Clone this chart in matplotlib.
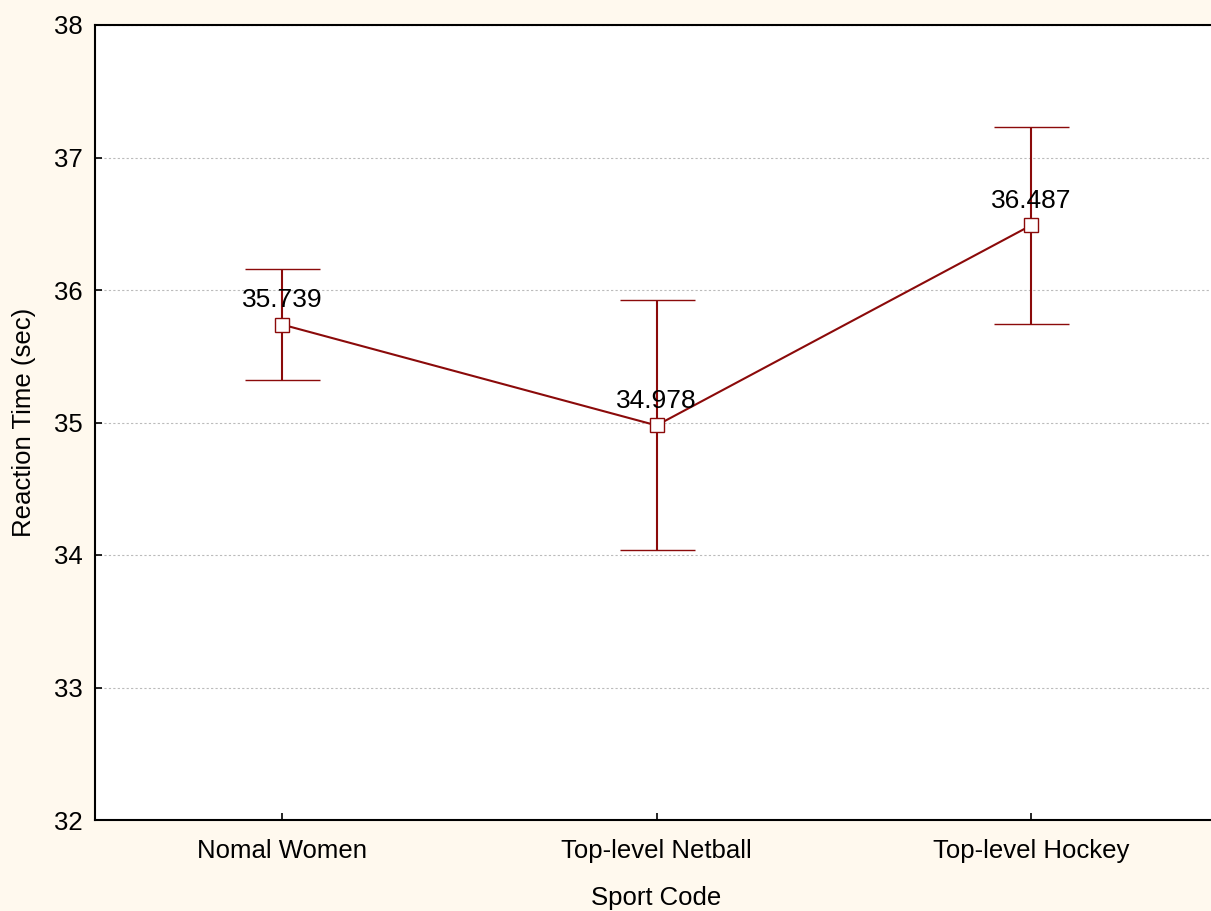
import matplotlib.pyplot as plt

# data
categories = ["Nomal Women", "Top-level Netball", "Top-level Hockey"]
means = [35.739, 34.978, 36.487]
upper = [36.158, 35.925, 37.232]
lower = [35.321, 34.036, 35.740]
y_ticks = [32, 33, 34, 35, 36, 37, 38]

plt.rcParams["font.family"] = ["Liberation Sans", "DejaVu Sans"]

dark_red = "#8B0A0A"
bg = "#FFF9EE"

fig = plt.figure(figsize=(12.11, 9.11), dpi=100, facecolor=bg)
ax = fig.add_axes([95 / 1211, 91 / 911, 1123 / 1211, 795 / 911])
ax.set_facecolor("white")

x = list(range(len(categories)))
err_lo = [m - l for m, l in zip(means, lower)]
err_hi = [u - m for m, u in zip(means, upper)]

ax.errorbar(x, means, yerr=[err_lo, err_hi], color=dark_red, lw=1.5,
            capsize=27, capthick=1.8, elinewidth=1.5,
            marker="s", markersize=9.5, markerfacecolor="white",
            markeredgecolor=dark_red, markeredgewidth=1.0, zorder=3)

for xi, m in zip(x, means):
    ax.annotate(f"{m:.3f}", (xi, m), xytext=(0, 9), textcoords="offset points",
                ha="center", va="bottom", fontsize=19, color="black", zorder=4)

ax.set_xlim(-0.5, 2.5)
ax.set_ylim(32, 38)
ax.set_yticks(y_ticks)
ax.set_xticks(x)
ax.set_xticklabels(categories)
ax.tick_params(axis="both", direction="in", length=5, width=1.2,
               labelsize=18.5)
ax.tick_params(axis="y", pad=9)
ax.tick_params(axis="x", pad=14)
ax.grid(axis="y", linestyle=(0, (2, 2)), color="#BBBBBB", lw=0.8)
ax.set_axisbelow(True)

for s in ax.spines.values():
    s.set_linewidth(1.5)
    s.set_color("black")

ax.set_xlabel("Sport Code", fontsize=18.5, labelpad=16)
ax.set_ylabel("Reaction Time (sec)", fontsize=18.5, labelpad=13)

fig.savefig("out.png", dpi=100, facecolor=bg)
